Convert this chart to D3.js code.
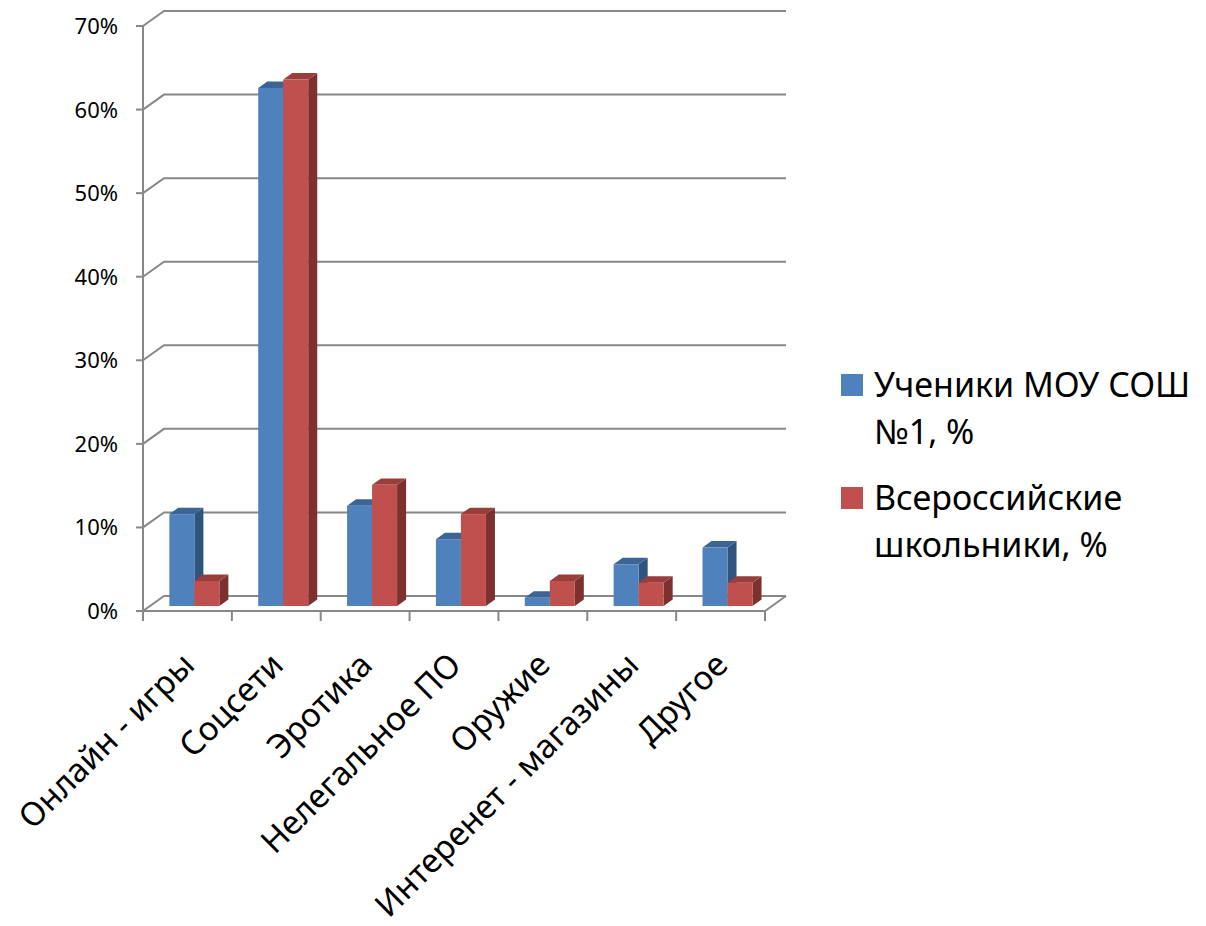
<!DOCTYPE html>
<html lang="ru">
<head>
    <meta charset="UTF-8">
    <title>chart</title>
    <style>
        body { margin: 0; background: #fff; }
        text { font-family: "Noto Sans", sans-serif; fill: #000; }
    </style>
</head>
<body>
<script src="https://cdn.jsdelivr.net/npm/d3@7"></script>
<script>

// data
const categories = ['Онлайн - игры', 'Соцсети', 'Эротика', 'Нелегальное ПО', 'Оружие', 'Интеренет - магазины', 'Другое'];
const series = ['Ученики МОУ СОШ №1, %', 'Всероссийские школьники, %'];
const legend_lines = [['Ученики МОУ СОШ', '№1, %'], ['Всероссийские', 'школьники, %']];
const school = [11, 62, 12, 8, 1, 5, 7];
const russia = [3, 63, 14.5, 11, 3, 2.8, 2.8];
const y_ticks = [0, 10, 20, 30, 40, 50, 60, 70];

const width = 1206, height = 926;
const front = {left: 143, right: 765, bottom: 611, top: 26};
const DX = 21, DY = -15;           // full depth offset of the walls
const bar_d0 = 0.33, bar_d1 = 0.76; // where the bars sit inside the depth
const grid_color = '#888888';
const colors = {
    front: ['#4f81bd', '#c0504d'],
    top:   ['#3c6595', '#9a3e3b'],
    side:  ['#31547f', '#7d312f']
};

let svg = d3.select('body')
    .append('svg')
    .attr('width', width)
    .attr('height', height);

let x = d3.scaleBand()
    .domain(categories)
    .range([front.left, front.right]);

let x1 = d3.scaleBand()
    .domain(series)
    .range([0, x.bandwidth()])
    .paddingOuter(0.777);

let y = d3.scaleLinear()
    .domain([0, 70])
    .range([front.bottom, front.top]);

function p(px, py, d){
    return [px + d * DX, py + d * DY];
}

// gridlines on the back wall + the little diagonals on the side wall
let grid = svg.append('g');
y_ticks.forEach(function(t){
    let a = p(front.left, y(t), 0), b = p(front.left, y(t), 1), c = p(front.right, y(t), 1);
    grid.append('polyline')
        .attr('points', [a, b, c].map(q => q.join(',')).join(' '))
        .attr('fill', 'none')
        .attr('stroke', grid_color)
        .attr('stroke-width', 2);
    grid.append('line')
        .attr('x1', front.left - 7).attr('x2', front.left)
        .attr('y1', y(t)).attr('y2', y(t))
        .attr('stroke', grid_color).attr('stroke-width', 2);
    grid.append('text')
        .attr('x', 118)
        .attr('y', y(t) + 8)
        .attr('text-anchor', 'end')
        .style('font-size', '22px')
        .text(t + '%');
});

// left axis + floor
grid.append('line')
    .attr('x1', front.left).attr('x2', front.left)
    .attr('y1', y(70)).attr('y2', y(0))
    .attr('stroke', grid_color).attr('stroke-width', 2);
let fr = p(front.right, y(0), 0), br = p(front.right, y(0), 1);
grid.append('polyline')
    .attr('points', [[front.left, y(0)], fr, br].map(q => q.join(',')).join(' '))
    .attr('fill', 'none')
    .attr('stroke', grid_color).attr('stroke-width', 2);
d3.range(categories.length + 1).forEach(function(i){
    let cx = front.left + i * x.step();
    grid.append('line')
        .attr('x1', cx).attr('x2', cx)
        .attr('y1', y(0)).attr('y2', y(0) + 10)
        .attr('stroke', grid_color).attr('stroke-width', 2);
});

// bars
let bars = svg.append('g');
categories.forEach(function(cat, i){
    [school[i], russia[i]].forEach(function(v, s){
        let xa = x(cat) + x1(series[s]), xb = xa + x1.bandwidth();
        let yt = y(v), yb = y(0);
        let pts = q => q.map(r => r.join(',')).join(' ');
        // side
        bars.append('polygon')
            .attr('points', pts([p(xb, yt, bar_d0), p(xb, yt, bar_d1), p(xb, yb, bar_d1), p(xb, yb, bar_d0)]))
            .attr('fill', colors.side[s]);
        // top
        bars.append('polygon')
            .attr('points', pts([p(xa, yt, bar_d0), p(xa, yt, bar_d1), p(xb, yt, bar_d1), p(xb, yt, bar_d0)]))
            .attr('fill', colors.top[s]);
        // front
        let f0 = p(xa, yt, bar_d0);
        bars.append('rect')
            .attr('x', f0[0]).attr('y', f0[1])
            .attr('width', xb - xa)
            .attr('height', yb - yt)
            .attr('fill', colors.front[s]);
    });
});

// category labels
svg.append('g').selectAll('text')
    .data(categories)
    .enter()
    .append('text')
    .attr('text-anchor', 'end')
    .attr('transform', d => 'translate(' + (x(d) + x.bandwidth() / 2 + 9) + ',667) rotate(-45)')
    .style('font-size', '33px')
    .text(d => d);

// legend
let legend = svg.append('g');
const legend_y = [374, 487];
legend_lines.forEach(function(lines, s){
    legend.append('rect')
        .attr('x', 841).attr('y', legend_y[s])
        .attr('width', 22).attr('height', 22)
        .attr('fill', colors.front[s]);
    lines.forEach(function(l, k){
        legend.append('text')
            .attr('x', 874)
            .attr('y', legend_y[s] + 23 + k * 47)
            .style('font-size', '34px')
            .text(l);
    });
});

</script>
</body>
</html>
